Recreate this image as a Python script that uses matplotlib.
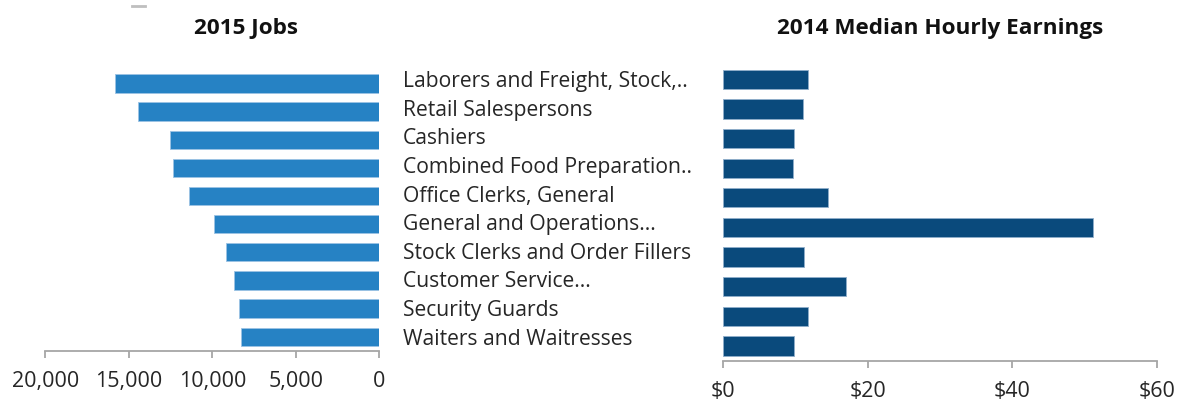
import matplotlib.pyplot as plt
from matplotlib.ticker import FuncFormatter, StrMethodFormatter
from matplotlib.lines import Line2D

plt.rcParams['font.family'] = ['Open Sans', 'DejaVu Sans']

# occupations, biggest employers first
occupations = [
    "Laborers and Freight, Stock,..",
    "Retail Salespersons",
    "Cashiers",
    "Combined Food Preparation..",
    "Office Clerks, General",
    "General and Operations...",
    "Stock Clerks and Order Fillers",
    "Customer Service...",
    "Security Guards",
    "Waiters and Waitresses",
]
jobs_2015 = [15850, 14430, 12520, 12340, 11420, 9920, 9200, 8700, 8400, 8300]
hourly_2014 = [11.73, 11.04, 9.89, 9.66, 14.49, 51.12, 11.27, 17.07, 11.73, 9.89]

job_ticks = [20000, 15000, 10000, 5000, 0]
wage_ticks = [0, 20, 40, 60]

jobs_color = "#2682C4"
wage_color = "#0A4A7C"
axis_gray = "#A6A6A6"
text_dark = "#262626"

fig = plt.figure(figsize=(11.84, 4.06), dpi=100)
ypos = list(range(len(occupations)))

ax_jobs = fig.add_axes([0.0383, 0.1337, 0.2821, 0.6931])
ax_names = fig.add_axes([0.3404, 0.1355, 0.25, 0.7051])
ax_wage = fig.add_axes([0.6104, 0.1089, 0.3671, 0.7298])

ax_jobs.barh(ypos, jobs_2015, height=0.65, color=jobs_color,
             edgecolor="#9CC3E4", linewidth=0.6)
ax_jobs.set_xlim(20000, 0)
ax_jobs.set_xticks(job_ticks)
ax_jobs.xaxis.set_major_formatter(StrMethodFormatter("{x:,.0f}"))

ax_wage.barh(ypos, hourly_2014, height=0.65, color=wage_color,
             edgecolor="#8FAECB", linewidth=0.6)
ax_wage.set_xlim(0, 60)
ax_wage.set_xticks(wage_ticks)
ax_wage.xaxis.set_major_formatter(FuncFormatter(lambda v, p: f"${v:.0f}"))

for ax in (ax_jobs, ax_wage):
    ax.set_ylim(9.5, -0.5)
    ax.set_yticks([])
    for s in ("top", "left", "right"):
        ax.spines[s].set_visible(False)
    ax.spines["bottom"].set_color(axis_gray)
    ax.spines["bottom"].set_linewidth(1.3)
    ax.tick_params(axis="x", colors=axis_gray, length=5, width=1.3,
                   pad=9, labelsize=15.5, labelcolor=text_dark)

# category names between the two panels
ax_names.set_xlim(0, 1)
ax_names.set_ylim(9.5, -0.5)
ax_names.axis("off")
for i, name in enumerate(occupations):
    ax_names.text(0.0, i, name, ha="left", va="center_baseline",
                  fontsize=15.2, color=text_dark)

fig.text(0.208, 0.93, "2015 Jobs", ha="center", va="center",
         fontsize=16.2, fontweight="bold", color="#111111")
fig.text(0.794, 0.93, "2014 Median Hourly Earnings", ha="center", va="center",
         fontsize=16.2, fontweight="bold", color="#111111")

# small grey dash left over in the top corner
fig.add_artist(Line2D([0.1112, 0.1225], [0.983, 0.983], color="#BFBFBF",
                      linewidth=2, transform=fig.transFigure))

fig.savefig("out.png", dpi=100)
